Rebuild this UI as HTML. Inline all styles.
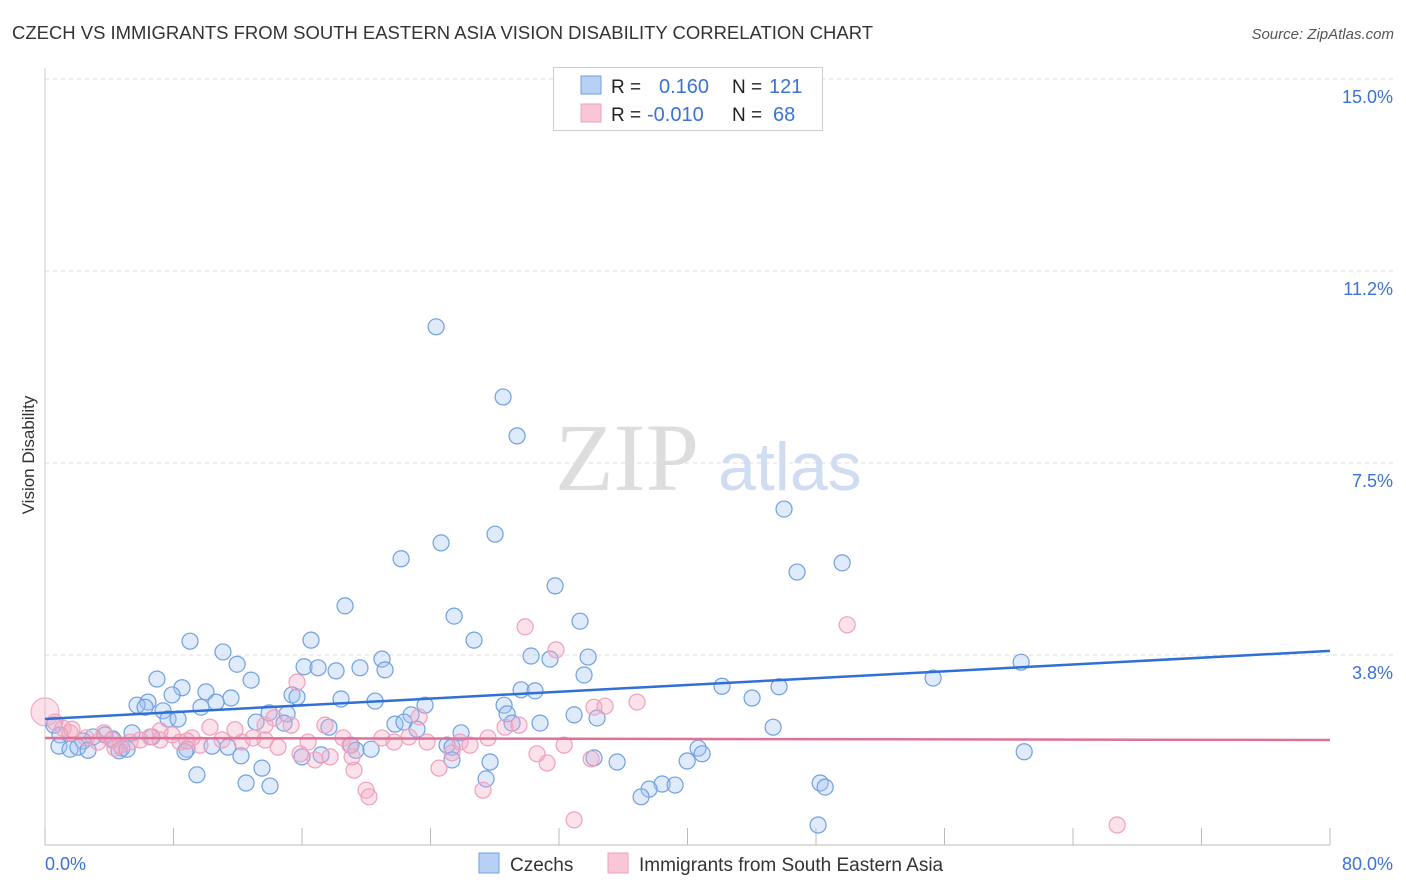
<!DOCTYPE html>
<html><head><meta charset="utf-8"><style>
body{margin:0;background:#fff;font-family:"Liberation Sans",sans-serif;}
#wrap{position:relative;width:1406px;height:892px;overflow:hidden;}
</style></head><body>
<div id="wrap">
<svg id="chart" width="1406" height="892" xmlns="http://www.w3.org/2000/svg">
<text x="12" y="39" font-size="18" fill="#333" textLength="861" lengthAdjust="spacingAndGlyphs">CZECH VS IMMIGRANTS FROM SOUTH EASTERN ASIA VISION DISABILITY CORRELATION CHART</text>
<text x="1394" y="39" font-size="15" fill="#555" font-style="italic" text-anchor="end">Source: ZipAtlas.com</text>
<text x="34" y="455" font-size="17" fill="#333" text-anchor="middle" transform="rotate(-90 34 455)">Vision Disability</text>
<text x="555" y="490" font-size="96" fill="#ddd" font-family="Liberation Serif,serif">ZIP</text>
<text x="718" y="490" font-size="68" fill="#cfdcf2">atlas</text>
<g id="grid"></g><g id="axes"></g><g id="pts"></g><g id="lines"></g>
<g>
<rect x="553.5" y="67.5" width="269" height="63" fill="#fff" stroke="#ccc"/>
<rect x="581" y="76" width="20" height="18" fill="#b8d0f5" stroke="#6fa0e0"/>
<rect x="581" y="104" width="20" height="18" fill="#f8c6d6" stroke="#f0a0bb"/>
<text x="611" y="93" font-size="19" fill="#222">R = </text><text x="659" y="93" font-size="20" fill="#3a72d8">0.160</text>
<text x="732" y="93" font-size="19" fill="#222">N = </text><text x="769" y="93" font-size="20" fill="#3a72d8">121</text>
<text x="611" y="121" font-size="19" fill="#222">R = </text><text x="647" y="121" font-size="20" fill="#3a72d8">-0.010</text>
<text x="732" y="121" font-size="19" fill="#222">N = </text><text x="773" y="121" font-size="20" fill="#3a72d8">68</text>
</g>
<g>
<rect x="479" y="853" width="20" height="20" fill="#b8d0f5" stroke="#6fa0e0"/>
<text x="510" y="871" font-size="19" fill="#333">Czechs</text>
<rect x="608" y="853" width="20" height="20" fill="#f8c6d6" stroke="#f0a0bb"/>
<text x="639" y="871" font-size="19" fill="#333">Immigrants from South Eastern Asia</text>
</g>
</svg>
</div>
<script>
const xTicks=[0,8,16,24,32,40,48,56,64,72,80];
const yTicks=[3.75,7.5,11.25,15];
const yTickLabels=["3.8%","7.5%","11.2%","15.0%"];
const xEndLabels=["0.0%","80.0%"];
const czX=[24.35,28.52,29.39,46.01,28.02,24.66,22.17,49.63,46.82,31.76,18.68,25.47,33.31,26.71,16.56,9.03,11.08,20.98,30.26,33.81,31.44,11.96,16.13,17.0,18.12,19.61,21.17,60.77,33.56,6.97,12.83,55.29,8.53,7.91,10.02,29.64,30.51,42.15,45.7,15.38,15.69,11.58,10.65,6.41,18.43,20.55,44.02,5.73,6.23,9.71,7.35,7.66,8.28,23.66,28.58,13.95,15.07,22.79,28.77,32.94,34.37,13.14,14.88,17.68,21.79,22.35,23.16,29.08,45.33,25.9,30.82,0.56,0.93,5.42,6.66,3.74,2.99,4.23,2.37,0.87,1.56,2.05,2.68,4.79,4.61,5.11,8.84,10.4,11.39,19.05,19.36,20.3,25.03,25.34,40.66,40.91,60.96,8.72,12.2,16.0,17.19,25.34,27.71,34.18,35.62,39.98,9.46,13.51,12.52,14.01,27.46,38.42,39.23,37.61,37.11,48.26,48.57,48.13];
const czY=[10.16,8.79,8.03,6.6,6.11,5.94,5.63,5.55,5.37,5.1,4.71,4.51,4.41,4.04,4.04,4.02,3.81,3.67,3.73,3.71,3.67,3.57,3.52,3.5,3.44,3.5,3.46,3.61,3.36,3.28,3.26,3.3,3.11,2.97,3.03,3.07,3.05,3.14,3.13,2.97,2.93,2.91,2.83,2.83,2.89,2.85,2.91,2.77,2.73,2.73,2.66,2.5,2.5,2.77,2.77,2.62,2.6,2.58,2.6,2.58,2.52,2.44,2.42,2.34,2.4,2.44,2.3,2.42,2.34,2.23,2.42,2.38,2.19,2.23,2.15,2.19,2.15,2.11,2.07,1.97,1.91,1.95,1.89,1.93,1.88,1.91,1.91,1.97,1.95,1.99,1.89,1.91,1.99,1.95,1.93,1.82,1.86,1.86,1.78,1.76,1.8,1.7,1.66,1.74,1.66,1.68,1.41,1.54,1.25,1.19,1.33,1.23,1.21,1.13,0.98,1.25,1.17,0.43];
const imX=[0.62,1.12,1.56,2.55,3.3,3.67,4.17,4.67,5.29,5.92,6.54,7.16,7.91,8.41,9.15,9.65,10.27,11.02,11.83,12.27,12.95,13.7,14.26,15.32,15.69,16.38,16.81,17.43,17.75,18.56,19.12,19.24,19.99,20.17,20.98,21.73,22.66,23.29,23.79,24.53,25.34,25.84,26.46,27.58,27.27,28.64,29.51,29.89,30.63,31.26,31.82,32.32,32.94,34.0,34.18,34.87,36.86,49.94,66.75,1.68,4.36,7.16,8.84,13.7,14.51,15.88,18.99];
const imY=[2.44,2.32,2.23,2.13,2.05,2.23,2.09,1.99,2.05,2.09,2.15,2.09,2.19,2.05,2.13,1.99,2.34,2.09,2.29,2.05,2.13,2.09,2.52,2.38,3.22,2.05,1.7,2.38,1.76,2.13,1.76,1.5,1.11,0.98,2.13,2.05,2.15,2.54,2.05,1.54,1.84,2.05,1.99,2.13,1.11,2.34,2.38,4.3,1.82,1.64,3.85,1.99,0.53,1.72,2.73,2.75,2.83,4.34,0.43,2.3,1.93,2.27,2.07,2.38,1.95,1.82,1.99];
const czTrend=[2.5,3.83];
const imTrend=[2.13,2.09];
const X0=45,X1=1330,Y0=847,PY=51.2;
const sx=v=>X0+(X1-X0)*v/80;
const sy=v=>Y0-v*PY;
const NS="http://www.w3.org/2000/svg";
function mk(t,a,parent){const e=document.createElementNS(NS,t);for(const k in a)e.setAttribute(k,a[k]);parent.appendChild(e);return e;}
const grid=document.getElementById('grid'),axes=document.getElementById('axes'),pts=document.getElementById('pts'),lines=document.getElementById('lines');
yTicks.forEach((v,i)=>{
 const l=mk('line',{x1:X0,x2:1394,y1:sy(v),y2:sy(v),stroke:'#ddd','stroke-dasharray':'4 4'},grid);
 
 
 const t=mk('text',{x:1393,y:sy(v)+24,'font-size':18,fill:'#3a72d8','text-anchor':'end'},axes);
 t.textContent=yTickLabels[i];
 
 
});
const ax=mk('line',{x1:X0,x2:X1,y1:Y0-2,y2:Y0-2,stroke:'#bbb'},axes);


const ay=mk('line',{x1:X0,x2:X0,y1:68,y2:Y0-2,stroke:'#ccc'},axes);


xTicks.forEach(v=>{
 const l=mk('line',{x1:sx(v),x2:sx(v),y1:828,y2:Y0-2,stroke:'#bbb'},axes);
 
 
});
const xl0=mk('text',{x:45,y:870,'font-size':18,fill:'#3a72d8'},axes);xl0.textContent=xEndLabels[0];


const xl1=mk('text',{x:1393,y:870,'font-size':18,fill:'#3a72d8','text-anchor':'end'},axes);xl1.textContent=xEndLabels[1];


const big=mk('circle',{cx:sx(0),cy:sy(2.64),r:14,fill:'rgba(244,170,196,0.35)',stroke:'#f0a0bb'},pts);


czX.forEach((x,i)=>{
 const c=mk('circle',{cx:sx(x),cy:sy(czY[i]),r:8,fill:'rgba(164,194,244,0.35)',stroke:'#6fa0e0','stroke-width':1.2},pts);
 
 
});
imX.forEach((x,i)=>{
 const c=mk('circle',{cx:sx(x),cy:sy(imY[i]),r:8,fill:'rgba(244,170,196,0.35)',stroke:'#f0a0bb','stroke-width':1.2},pts);
 
 
});
const tl1=mk('line',{x1:sx(0),x2:sx(80),y1:sy(czTrend[0]),y2:sy(czTrend[1]),stroke:'#2f6fd6','stroke-width':2.5},lines);


const tl2=mk('line',{x1:sx(0),x2:sx(80),y1:sy(imTrend[0]),y2:sy(imTrend[1]),stroke:'#e0709a','stroke-width':2.5},lines);


</script>
</body></html>
